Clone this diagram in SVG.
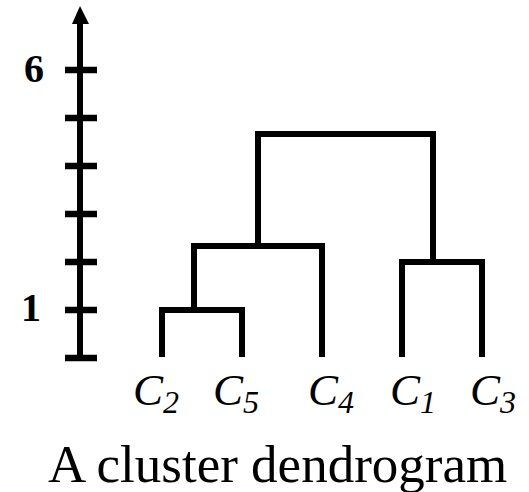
<svg xmlns="http://www.w3.org/2000/svg" width="529" height="492" viewBox="0 0 529 492">
<style>
.ln{fill:none;stroke:#000;stroke-width:6;stroke-linejoin:miter;stroke-linecap:butt}
.tk{stroke:#000;stroke-width:6.5}
.ax{font-family:"Liberation Serif",serif;font-weight:bold;font-size:40px;fill:#000}
.lb{font-family:"Liberation Serif",serif;font-style:italic;font-size:45px;fill:#000}
.sb{font-size:32px}
.cap{font-family:"Liberation Serif",serif;font-size:53px;fill:#000}
</style>
<rect width="529" height="492" fill="#fff"/>
<g id="axis">
<line x1="80" y1="358" x2="80" y2="22" class="tk" style="stroke-width:6"/>
<polygon points="80,6 72,24 89,24" fill="#000"/>
<line x1="65" y1="70" x2="97" y2="70" class="tk"/>
<line x1="65" y1="118" x2="97" y2="118" class="tk"/>
<line x1="65" y1="166" x2="97" y2="166" class="tk"/>
<line x1="65" y1="214" x2="97" y2="214" class="tk"/>
<line x1="65" y1="262" x2="97" y2="262" class="tk"/>
<line x1="65" y1="310" x2="97" y2="310" class="tk"/>
<line x1="65" y1="358" x2="97" y2="358" class="tk"/>
<text class="ax" x="24" y="82">6</text>
<text class="ax" x="21" y="321">1</text>
</g>
<g id="connectors">
<path class="ln" d="M162 357 V310 H242 V357"/>
<path class="ln" d="M194 310 V246 H322 V357"/>
<path class="ln" d="M402 357 V262 H482 V357"/>
<path class="ln" d="M258 246 V134 H433 V262"/>
</g>
<g id="C2"><text class="lb" x="133" y="405">C<tspan class="sb" dy="8">2</tspan></text></g>
<g id="C5"><text class="lb" x="213" y="405">C<tspan class="sb" dy="8">5</tspan></text></g>
<g id="C4"><text class="lb" x="308" y="405">C<tspan class="sb" dy="8">4</tspan></text></g>
<g id="C1"><text class="lb" x="390" y="405">C<tspan class="sb" dy="8">1</tspan></text></g>
<g id="C3"><text class="lb" x="470" y="405">C<tspan class="sb" dy="8">3</tspan></text></g>
<g id="caption"><text class="cap" x="48" y="482">A cluster dendrogram</text></g>
</svg>
